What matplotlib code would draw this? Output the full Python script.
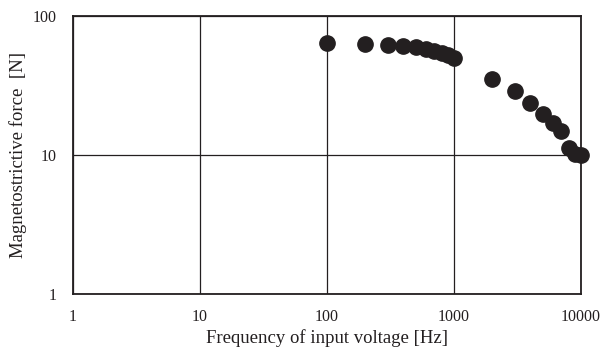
import matplotlib
matplotlib.use("Agg")
from matplotlib import pyplot as plt
from matplotlib.ticker import FixedLocator, NullLocator

plt.rcParams['font.family'] = ['Liberation Serif', 'DejaVu Serif']

# measured force against drive frequency
frequency_hz = [100, 200, 300, 400, 500, 600, 700, 800, 900, 1000,
                2000, 3000, 4000, 5000, 6000, 7000, 8000, 9000, 10000]
force_n = [64, 63, 62, 61, 59.5, 58, 56, 54, 52, 50,
           35, 29, 23.7, 19.7, 17, 14.8, 11.3, 10.1, 10.0]

x_ticks = [1, 10, 100, 1000, 10000]
y_ticks = [1, 10, 100]

fig = plt.figure(figsize=(6.14, 3.52), dpi=100)
ax = fig.add_axes([73 / 614, 1 - 294 / 352, 508 / 614, 278 / 352])

ax.plot(frequency_hz, force_n, 'o', color='#231f20', markersize=11, zorder=3, clip_on=False)

ax.set_xscale('log')
ax.set_yscale('log')
ax.set_xlim(1, 10000)
ax.set_ylim(1, 100)
ax.xaxis.set_major_locator(FixedLocator(x_ticks))
ax.yaxis.set_major_locator(FixedLocator(y_ticks))
ax.xaxis.set_minor_locator(NullLocator())
ax.yaxis.set_minor_locator(NullLocator())
ax.set_xticklabels([str(t) for t in x_ticks])
ax.set_yticklabels([str(t) for t in y_ticks])
ax.tick_params(length=0, labelsize=11.5, colors='#231f20')
ax.tick_params(axis='x', pad=11)
ax.tick_params(axis='y', pad=12)
ax.grid(True, color='#231f20', linewidth=0.9)

for s in ax.spines.values():
    s.set_color('#231f20')
    s.set_linewidth(1.3)

ax.set_xlabel('Frequency of input voltage [Hz]', fontsize=13.5, labelpad=3, color='#231f20')
ax.set_ylabel('Magnetostrictive force  [N]', fontsize=13.5, labelpad=4, color='#231f20')

fig.savefig('out.png', dpi=100)
